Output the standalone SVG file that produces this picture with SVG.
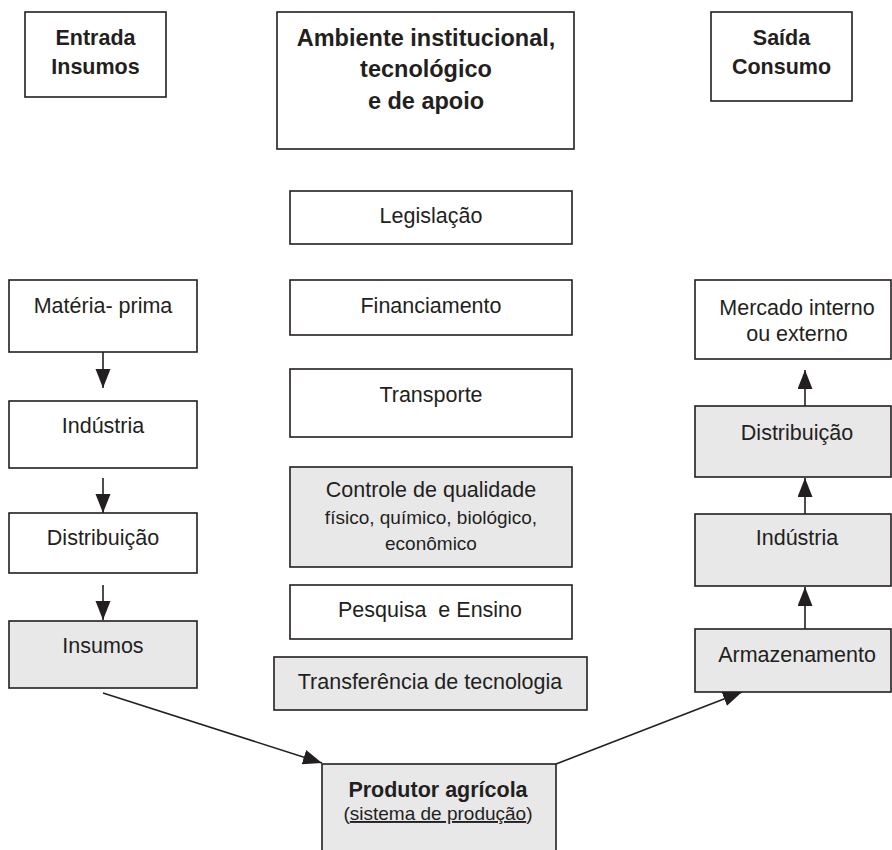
<svg xmlns="http://www.w3.org/2000/svg" width="892" height="850" viewBox="0 0 892 850">
<style>
.box{fill:#ffffff;stroke:#231f20;stroke-width:1.6}
.gray{fill:#e8e8e9;stroke:#231f20;stroke-width:1.6}
text{font-family:"Liberation Sans",Arial,Helvetica,sans-serif;fill:#231f20;text-anchor:middle}
.t{font-size:21.5px}
.s{font-size:19px}
.b{font-size:21.5px;font-weight:bold}
.bb{font-size:23.5px;font-weight:bold}
.c{stroke:#231f20;stroke-width:1.6;fill:none;marker-end:url(#ah)}
</style>
<defs>
<marker id="ah" markerUnits="userSpaceOnUse" markerWidth="20" markerHeight="16" refX="19" refY="7.5" orient="auto">
<path d="M0,0 L19,7.5 L0,15 Z" fill="#231f20"/>
</marker>
</defs>
<rect width="892" height="850" fill="#ffffff"/>
<g id="connectors">
<line class="c" x1="103" y1="352" x2="103" y2="388"/>
<line class="c" x1="103" y1="478" x2="103" y2="513"/>
<line class="c" x1="103" y1="585" x2="103" y2="620"/>
<line class="c" x1="103" y1="693" x2="322" y2="763"/>
<line class="c" x1="556" y1="764" x2="742" y2="692"/>
<line class="c" x1="805" y1="629" x2="805" y2="587"/>
<line class="c" x1="805" y1="514" x2="805" y2="478"/>
<line class="c" x1="805" y1="406" x2="805" y2="370"/>
</g>
<g id="entrada">
<rect class="box" x="25" y="12" width="141" height="85"/>
<text class="b" x="95.5" y="45">Entrada</text>
<text class="b" x="95.5" y="74">Insumos</text>
</g>
<g id="ambiente">
<rect class="box" x="277" y="12" width="297" height="137"/>
<text class="bb" x="426" y="46">Ambiente institucional,</text>
<text class="bb" x="426" y="77">tecnológico</text>
<text class="bb" x="426" y="109">e de apoio</text>
</g>
<g id="saida">
<rect class="box" x="711" y="12" width="141" height="89"/>
<text class="b" x="781.5" y="45">Saída</text>
<text class="b" x="781.5" y="74">Consumo</text>
</g>
<g id="legislacao">
<rect class="box" x="290" y="191" width="282" height="53"/>
<text class="t" x="431" y="223">Legislação</text>
</g>
<g id="financiamento">
<rect class="box" x="290" y="280" width="282" height="55"/>
<text class="t" x="431" y="313">Financiamento</text>
</g>
<g id="transporte">
<rect class="box" x="290" y="369" width="282" height="68"/>
<text class="t" x="431" y="402">Transporte</text>
</g>
<g id="controle">
<rect class="gray" x="290" y="467" width="282" height="100"/>
<text class="t" x="431" y="497">Controle de qualidade</text>
<text class="s" x="431" y="524">físico, químico, biológico,</text>
<text class="s" x="431" y="550">econômico</text>
</g>
<g id="pesquisa">
<rect class="box" x="290" y="585" width="282" height="54"/>
<text class="t" x="430" y="617" xml:space="preserve">Pesquisa  e Ensino</text>
</g>
<g id="transferencia">
<rect class="gray" x="274" y="657" width="313" height="53"/>
<text class="t" x="430" y="689">Transferência de tecnologia</text>
</g>
<g id="produtor">
<rect class="gray" x="322" y="764" width="234" height="100"/>
<text class="b" x="438" y="797">Produtor agrícola</text>
<text class="s" x="438" y="820">(<tspan text-decoration="underline">sistema de produção</tspan>)</text>
</g>
<g id="materia">
<rect class="box" x="9" y="280" width="188" height="72"/>
<text class="t" x="103" y="313">Matéria- prima</text>
</g>
<g id="industria-l">
<rect class="box" x="9" y="401" width="188" height="67"/>
<text class="t" x="103" y="433">Indústria</text>
</g>
<g id="distribuicao-l">
<rect class="box" x="9" y="513" width="188" height="60"/>
<text class="t" x="103" y="545">Distribuição</text>
</g>
<g id="insumos">
<rect class="gray" x="9" y="621" width="188" height="67"/>
<text class="t" x="103" y="653">Insumos</text>
</g>
<g id="mercado">
<rect class="box" x="695" y="280" width="196" height="79"/>
<text class="t" x="797" y="315">Mercado interno</text>
<text class="t" x="797" y="341">ou externo</text>
</g>
<g id="distribuicao-r">
<rect class="gray" x="695" y="406" width="196" height="71"/>
<text class="t" x="797" y="440">Distribuição</text>
</g>
<g id="industria-r">
<rect class="gray" x="695" y="514" width="196" height="72"/>
<text class="t" x="797" y="545">Indústria</text>
</g>
<g id="armazenamento">
<rect class="gray" x="695" y="629" width="196" height="63"/>
<text class="t" x="797" y="662">Armazenamento</text>
</g>
</svg>
